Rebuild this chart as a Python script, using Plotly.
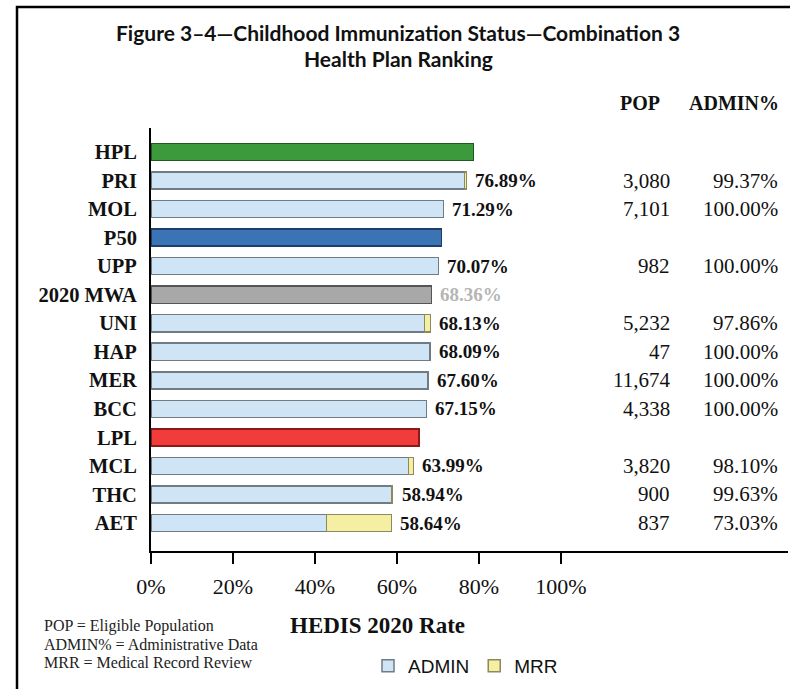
import plotly.graph_objects as go

# ---- data ----
row_order = ["HPL", "PRI", "MOL", "P50", "UPP", "2020 MWA", "UNI", "HAP",
             "MER", "BCC", "LPL", "MCL", "THC", "AET"]

plans = ["PRI", "MOL", "UPP", "UNI", "HAP", "MER", "BCC", "MCL", "THC", "AET"]
plan_rates = [76.89, 71.29, 70.07, 68.13, 68.09, 67.60, 67.15, 63.99, 58.94, 58.64]
admin_part = [76.41, 71.29, 70.07, 66.67, 68.09, 67.60, 67.15, 62.77, 58.72, 42.82]
mrr_part = [0.48, None, None, 1.46, None, None, None, 1.22, 0.22, 15.82]
pop_text = ["3,080", "7,101", "982", "5,232", "47", "11,674", "4,338", "3,820", "900", "837"]
admin_pct_text = ["99.37%", "100.00%", "100.00%", "97.86%", "100.00%", "100.00%",
                  "100.00%", "98.10%", "99.63%", "73.03%"]

bench_names = ["HPL", "P50", "2020 MWA", "LPL"]
bench_values = [78.6, 70.8, 68.36, 65.4]
bench_fill = ["#3c9a3c", "#3a74b4", "#a8a8a8", "#f23c3c"]
bench_line = ["#1f5a1f", "#1e3e68", "#555555", "#8a1a1a"]

x_ticks = [0, 20, 40, 60, 80, 100]
x_tick_text = ["0%", "20%", "40%", "60%", "80%", "100%"]

W, H = 790, 689
SERIF = "Liberation Serif"

fig = go.Figure()
fig.add_trace(go.Bar(
    y=plans, x=admin_part, orientation="h", name="ADMIN",
    marker=dict(color="#cfe4f5", line=dict(color="#6f7c86", width=1.5)),
    showlegend=True, hoverinfo="skip"))
fig.add_trace(go.Bar(
    y=plans, x=mrr_part, orientation="h", name="MRR",
    marker=dict(color="#f4efa2", line=dict(color="#8c8a5c", width=1.5)),
    showlegend=True, hoverinfo="skip"))
fig.add_trace(go.Bar(
    y=bench_names, x=bench_values, orientation="h", name="bench",
    marker=dict(color=bench_fill, line=dict(color=bench_line, width=1.5)),
    showlegend=False, hoverinfo="skip"))

ann = []
# value labels for plans
for p, r in zip(plans, plan_rates):
    ann.append(dict(x=r, y=p, xref="x", yref="y", text=f"{r:.2f}%",
                    xanchor="left", yanchor="middle", xshift=7, showarrow=False,
                    font=dict(family=SERIF, size=19, color="#111111", weight="bold")))
# MWA label
mwa_i = bench_names.index("2020 MWA")
ann.append(dict(x=bench_values[mwa_i], y="2020 MWA", xref="x", yref="y",
                text=f"{bench_values[mwa_i]:.2f}%", xanchor="left", yanchor="middle",
                xshift=7, showarrow=False,
                font=dict(family=SERIF, size=19, color="#b5b5b5", weight="bold")))
# POP and ADMIN% columns
for p, pt, at in zip(plans, pop_text, admin_pct_text):
    ann.append(dict(x=672 / W, y=p, xref="paper", yref="y", text=pt,
                    xanchor="right", yanchor="middle", showarrow=False,
                    font=dict(family=SERIF, size=21, color="#111111")))
    ann.append(dict(x=780 / W, y=p, xref="paper", yref="y", text=at,
                    xanchor="right", yanchor="middle", showarrow=False,
                    font=dict(family=SERIF, size=21, color="#111111")))
# headers
ann.append(dict(x=640 / W, y=1 - 103 / H, xref="paper", yref="paper", text="POP",
                xanchor="center", yanchor="middle", showarrow=False,
                font=dict(family=SERIF, size=20, color="#111111", weight="bold")))
ann.append(dict(x=734 / W, y=1 - 103 / H, xref="paper", yref="paper", text="ADMIN%",
                xanchor="center", yanchor="middle", showarrow=False,
                font=dict(family=SERIF, size=20, color="#111111", weight="bold")))
# title lines
ann.append(dict(x=398 / W, y=1 - 32 / H, xref="paper", yref="paper",
                text="Figure 3–4—Childhood Immunization Status—Combination 3",
                xanchor="center", yanchor="middle", showarrow=False,
                font=dict(family="Lato", size=21, color="#111111", weight="bold")))
ann.append(dict(x=398 / W, y=1 - 59 / H, xref="paper", yref="paper",
                text="Health Plan Ranking",
                xanchor="center", yanchor="middle", showarrow=False,
                font=dict(family="Lato", size=21, color="#111111", weight="bold")))
# axis title
ann.append(dict(x=377 / W, y=1 - 625 / H, xref="paper", yref="paper",
                text="HEDIS 2020 Rate", xanchor="center", yanchor="middle",
                showarrow=False,
                font=dict(family=SERIF, size=23, color="#111111", weight="bold")))
# footnotes
for txt, yy in [("POP = Eligible Population", 626),
                ("ADMIN% = Administrative Data", 644),
                ("MRR = Medical Record Review", 662)]:
    ann.append(dict(x=42 / W, y=1 - yy / H, xref="paper", yref="paper", text=txt,
                    xanchor="left", yanchor="middle", showarrow=False,
                    font=dict(family=SERIF, size=16, color="#222222")))

px_per_pct = 4.1
x0_px, x_end_px = 151, 788
x_max = (x_end_px - x0_px) / px_per_pct

cat_px = 28.54
top_px, bot_px = 128, 551
first_c, last_c = 152, 523
y_top = -(first_c - top_px) / cat_px
y_bot = (len(row_order) - 1) + (bot_px - last_c) / cat_px

fig.update_layout(
    width=W, height=H,
    margin=dict(l=0, r=0, t=0, b=0, autoexpand=False),
    paper_bgcolor="white", plot_bgcolor="white",
    barmode="stack", bargap=0.4,
    annotations=ann,
    showlegend=True,
    legend=dict(orientation="h", x=368 / W, y=1 - 666 / H, xanchor="left",
                yanchor="middle", traceorder="normal",
                font=dict(family="Liberation Sans", size=19, color="#111111"),
                bgcolor="rgba(0,0,0,0)"),
    xaxis=dict(domain=[x0_px / W, x_end_px / W], range=[0, x_max],
               tickvals=x_ticks, ticktext=x_tick_text, showgrid=False,
               zeroline=False, showline=True, linecolor="black", linewidth=2,
               ticks="outside", ticklen=11, tickwidth=2, tickcolor="black",
               tickfont=dict(family=SERIF, size=22, color="#111111"),
               ticklabelstandoff=4, fixedrange=True, automargin=False),
    yaxis=dict(domain=[1 - bot_px / H, 1 - top_px / H], type="category",
               categoryorder="array", categoryarray=row_order,
               range=[y_bot, y_top], showgrid=False, zeroline=False,
               showline=True, linecolor="black", linewidth=2, ticks="",
               tickfont=dict(family=SERIF, size=20.5, color="#111111", weight="bold"),
               ticklabelstandoff=8, fixedrange=True, automargin=False),
    shapes=[dict(type="rect", xref="paper", yref="paper", x0=17 / W, x1=1.05,
                 y0=-0.05, y1=1 - 7 / H, line=dict(color="black", width=2.5),
                 layer="above")],
)

fig.write_html(
    "out.html",
    config={"displayModeBar": False},
    post_script="document.body.style.margin='0';document.body.style.overflow='hidden';",
)
